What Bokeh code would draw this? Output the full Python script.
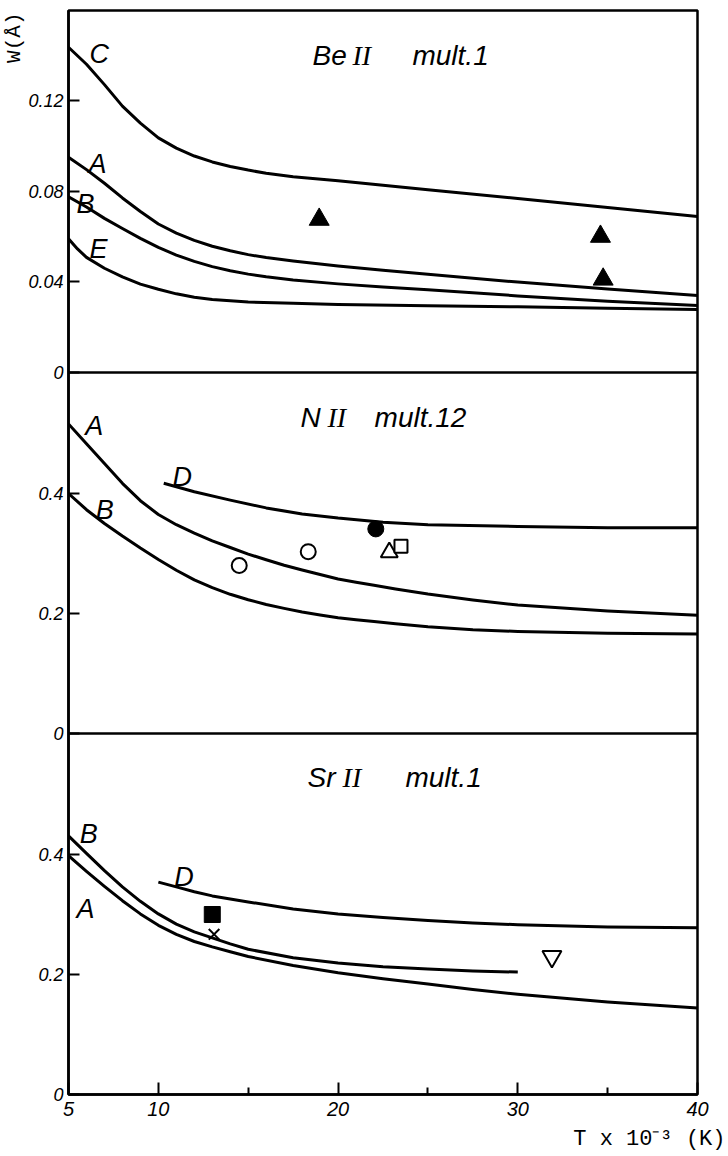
import math
from bokeh.plotting import figure
from bokeh.models import Range1d, FixedTicker, Label, Span, Title
from bokeh.embed import file_html
from bokeh.resources import INLINE

# ---------------- data ----------------
X_MIN, X_MAX = 5, 40

# Be II mult.1  (W in Angstrom)
be_x = [5, 6, 7, 8, 9, 10, 11, 12, 13, 14, 15, 16, 17.5, 20, 22.5, 25, 30, 35, 40]
be_C = [0.1435, 0.136, 0.127, 0.1175, 0.110, 0.1035, 0.099, 0.0955, 0.0929, 0.0909, 0.0893, 0.0879, 0.0864, 0.0846, 0.0826, 0.0806, 0.0768, 0.0728, 0.0688]
be_A = [0.095, 0.0895, 0.0835, 0.077, 0.071, 0.0655, 0.0615, 0.0583, 0.0557, 0.0537, 0.052, 0.0507, 0.0492, 0.0470, 0.0451, 0.0433, 0.0399, 0.0368, 0.034]
be_B = [0.0775, 0.073, 0.068, 0.0635, 0.0592, 0.0552, 0.0518, 0.049, 0.0467, 0.0449, 0.0434, 0.0422, 0.0408, 0.0391, 0.0377, 0.0365, 0.0338, 0.0314, 0.0296]
be_E_x = [5, 5.5, 6, 7, 8, 9, 10, 11, 12, 13, 15, 17.5, 20, 25, 30, 35, 40]
be_E = [0.059, 0.0545, 0.0508, 0.046, 0.0422, 0.039, 0.0367, 0.0347, 0.0332, 0.0322, 0.0311, 0.0305, 0.0300, 0.0295, 0.029, 0.0284, 0.0278]
be_obs_x = [18.95, 34.6, 34.75]
be_obs_w = [0.0675, 0.060, 0.0411]

# N II mult.12
n_x = [5, 6, 7, 8, 9, 10, 11, 12, 13, 14, 15, 16, 17, 18, 19, 20, 21, 22, 23.2, 25, 27.5, 30, 35, 40]
n_A = [0.516, 0.483, 0.45, 0.417, 0.388, 0.365, 0.348, 0.334, 0.321, 0.31, 0.299, 0.2895, 0.2805, 0.2725, 0.265, 0.2575, 0.252, 0.247, 0.241, 0.2325, 0.2225, 0.214, 0.204, 0.197]
n_B = [0.40, 0.373, 0.35, 0.329, 0.309, 0.29, 0.272, 0.256, 0.243, 0.232, 0.223, 0.215, 0.2085, 0.2025, 0.1975, 0.193, 0.1895, 0.1865, 0.183, 0.178, 0.173, 0.170, 0.167, 0.166]
n_D_x = [10.3, 12, 14, 16, 18, 20, 22.5, 25, 30, 35, 40]
n_D = [0.417, 0.403, 0.389, 0.376, 0.366, 0.359, 0.352, 0.348, 0.345, 0.343, 0.343]
n_open_circle_x = [14.5, 18.34]
n_open_circle_w = [0.28, 0.303]
n_filled_circle_x = [22.1]
n_filled_circle_w = [0.341]
n_open_triangle_x = [22.85]
n_open_triangle_w = [0.302]
n_open_square_x = [23.5]
n_open_square_w = [0.312]

# Sr II mult.1
s_B_x = [5, 6, 7, 8, 9, 10, 11, 12, 13, 14, 15, 17.5, 20, 22.5, 25, 27.5, 30]
s_B = [0.431, 0.402, 0.373, 0.346, 0.322, 0.301, 0.284, 0.271, 0.261, 0.251, 0.242, 0.228, 0.219, 0.213, 0.209, 0.206, 0.204]
s_A_x = [5, 6, 7, 8, 9, 10, 11, 12, 13, 14, 15, 17.5, 20, 22.5, 25, 27.5, 30, 35, 40]
s_A = [0.398, 0.372, 0.347, 0.323, 0.301, 0.282, 0.267, 0.255, 0.246, 0.238, 0.23, 0.215, 0.203, 0.193, 0.184, 0.175, 0.167, 0.154, 0.144]
s_D_x = [10, 11, 12, 13, 14, 15, 17.5, 20, 22.5, 25, 27.5, 30, 35, 40]
s_D = [0.354, 0.346, 0.338, 0.331, 0.326, 0.321, 0.309, 0.301, 0.295, 0.29, 0.286, 0.283, 0.279, 0.278]
s_filled_square_x = [13.0]
s_filled_square_w = [0.30]
s_cross_x = [13.1]
s_cross_w = [0.267]
s_inv_triangle_x = [31.9]
s_inv_triangle_w = [0.23]

# tick labels
x_ticks = [5, 10, 20, 30, 40]
x_minor_ticks = [15, 25, 35]
top_ticks = [0, 0.04, 0.08, 0.12]
mid_ticks = [0, 0.2, 0.4]
bot_ticks = [0, 0.2, 0.4]

# ---------------- layout ----------------
FRAME_W, FRAME_H = 629, 1084
LOW_SCALE = 600.0      # px per unit, N II and Sr II panels
TOP_SCALE = 2266.7     # px per unit, Be II panel
MID_ZERO = 361         # px above frame bottom
TOP_ZERO = 722

p = figure(frame_width=FRAME_W, frame_height=FRAME_H,
           min_border_left=66, min_border_right=32, min_border_top=10, min_border_bottom=62,
           x_range=Range1d(X_MIN, X_MAX), y_range=Range1d(0, FRAME_H / LOW_SCALE),
           output_backend="svg", toolbar_location=None,
           background_fill_color="white", border_fill_color="white")
p.extra_y_ranges = {
    "mid": Range1d(-MID_ZERO / LOW_SCALE, (FRAME_H - MID_ZERO) / LOW_SCALE),
    "top": Range1d(-TOP_ZERO / TOP_SCALE, (FRAME_H - TOP_ZERO) / TOP_SCALE),
}
p.grid.visible = False
p.outline_line_color = "black"
p.outline_line_width = 2.5

def to_main(zero_px, scale, v):
    return round((zero_px + v * scale) / LOW_SCALE, 6)

ticks, overrides = [], {}
for zero_px, scale, tl in [(0, LOW_SCALE, bot_ticks), (MID_ZERO, LOW_SCALE, mid_ticks), (TOP_ZERO, TOP_SCALE, top_ticks)]:
    for t in tl:
        pos = to_main(zero_px, scale, t)
        ticks.append(pos)
        overrides[pos] = f"{t:g}"

yax = p.yaxis[0]
yax.ticker = FixedTicker(ticks=ticks, minor_ticks=[])
yax.major_label_overrides = overrides
yax.major_tick_in = 11
yax.major_tick_out = 0
yax.major_tick_line_width = 2
yax.minor_tick_line_color = None
yax.axis_line_width = 2.5
yax.major_label_standoff = 5
yax.major_label_text_font = "Liberation Sans"
yax.major_label_text_font_style = "italic"
yax.major_label_text_font_size = "18px"
yax.major_label_text_color = "black"

xax = p.xaxis[0]
xax.ticker = FixedTicker(ticks=x_ticks, minor_ticks=x_minor_ticks)
xax.major_tick_in = 12
xax.major_tick_out = 0
xax.minor_tick_in = 7
xax.minor_tick_out = 0
xax.major_tick_line_width = 2
xax.minor_tick_line_width = 2
xax.axis_line_width = 2.5
xax.major_label_standoff = 7
xax.major_label_text_font = "Liberation Sans"
xax.major_label_text_font_style = "italic"
xax.major_label_text_font_size = "20px"
xax.major_label_text_color = "black"

# axis titles (as side titles so they sit outside the frame)
p.add_layout(Title(text="T x 10⁻³ (K)", align="right", offset=-28, standoff=13,
                   text_font="Liberation Mono", text_font_size="22px",
                   text_font_style="normal", text_color="black"), "below")
p.add_layout(Title(text="W(Å)", align="right", offset=2, standoff=0,
                   text_font="Liberation Mono", text_font_size="21px",
                   text_font_style="normal", text_color="black"), "left")

# panel separators
for loc in [MID_ZERO / LOW_SCALE, TOP_ZERO / LOW_SCALE]:
    p.add_layout(Span(location=loc, dimension="width", line_color="black", line_width=2.5))

LW = 3
# Be II curves
for ys, xs in [(be_C, be_x), (be_A, be_x), (be_B, be_x), (be_E, be_E_x)]:
    p.line(xs, ys, line_width=LW, line_color="black", line_join="round", y_range_name="top")
p.scatter(be_obs_x, be_obs_w, marker="triangle", size=20, fill_color="black", line_color="black", y_range_name="top")

# N II curves
for ys, xs in [(n_A, n_x), (n_B, n_x), (n_D, n_D_x)]:
    p.line(xs, ys, line_width=LW, line_color="black", line_join="round", y_range_name="mid")
p.scatter(n_open_circle_x, n_open_circle_w, marker="circle", size=15, fill_color="white", line_color="black", line_width=2, y_range_name="mid")
p.scatter(n_filled_circle_x, n_filled_circle_w, marker="circle", size=16, fill_color="black", line_color="black", y_range_name="mid")
p.scatter(n_open_triangle_x, n_open_triangle_w, marker="triangle", size=17, fill_color="white", line_color="black", line_width=2, y_range_name="mid")
p.scatter(n_open_square_x, n_open_square_w, marker="square", size=13, fill_color="white", line_color="black", line_width=2, y_range_name="mid")

# Sr II curves
for ys, xs in [(s_B, s_B_x), (s_A, s_A_x), (s_D, s_D_x)]:
    p.line(xs, ys, line_width=LW, line_color="black", line_join="round")
p.scatter(s_filled_square_x, s_filled_square_w, marker="square", size=16, fill_color="black", line_color="black")
p.scatter(s_cross_x, s_cross_w, marker="x", size=15, line_color="black", line_width=2)
p.scatter(s_inv_triangle_x, s_inv_triangle_w, marker="inverted_triangle", size=19, fill_color="white", line_color="black", line_width=2)

def add_text(txt, x, y, rng=None, size=27, font="Liberation Sans", style="italic",
             align="left", baseline="alphabetic"):
    kw = dict(x=x, y=y, text=txt, text_font=font, text_font_size=f"{size}px",
              text_font_style=style, text_align=align, text_baseline=baseline,
              text_color="black")
    if rng:
        kw["y_range_name"] = rng
    p.add_layout(Label(**kw))

# curve letters
for txt, x, y in [("C", 6.17, 0.1406), ("A", 6.11, 0.092), ("B", 5.45, 0.0744), ("E", 6.17, 0.0546)]:
    add_text(txt, x, y, "top")
for txt, x, y in [("A", 5.93, 0.513), ("B", 6.52, 0.372), ("D", 10.79, 0.427)]:
    add_text(txt, x, y, "mid")
for txt, x, y in [("B", 5.63, 0.4345), ("A", 5.45, 0.3095), ("D", 10.88, 0.362)]:
    add_text(txt, x, y)

# panel titles
TS = 28
add_text("Be", 18.58, 0.1399, "top", TS)
add_text("II", 20.8, 0.1399, "top", TS, font="Liberation Serif")
add_text("mult.1", 24.14, 0.1399, "top", TS)
add_text("N", 17.91, 0.527, "mid", TS)
add_text("II", 19.41, 0.527, "mid", TS, font="Liberation Serif")
add_text("mult.12", 22.03, 0.527, "mid", TS)
add_text("Sr", 18.3, 0.529, None, TS)
add_text("II", 20.25, 0.529, None, TS, font="Liberation Serif")
add_text("mult.1", 23.75, 0.529, None, TS)

open("out.html", "w").write(file_html(p, INLINE))
